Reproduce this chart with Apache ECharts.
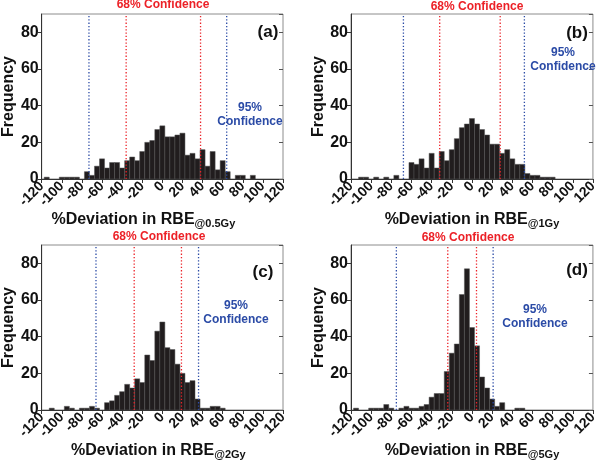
<!DOCTYPE html>
<html>
<head>
<meta charset="utf-8">
<script src="https://cdn.jsdelivr.net/npm/echarts@6/dist/echarts.min.js"></script>
<style>
html, body { margin: 0; background: #fff; }
#chart { width: 600px; height: 463px; }
</style>
</head>
<body>
<div id="chart"></div>
<script>
// histogram bins (centre of each 5% bin) and counts, per panel
var centersA = [-115, -100, -95, -90, -85, -75, -70, -65, -60, -55, -50, -45, -40, -35, -30, -25, -20, -15, -10, -5, 0, 5, 10, 15, 20, 25, 30, 35, 40, 45, 50, 55, 60, 65, 75, 80, 90]
var countsA = [1, 1, 1, 1, 1, 4, 2, 7, 11, 6, 9, 9, 6, 10, 12, 10, 15, 20, 21, 27, 29, 23, 23, 24, 25, 13, 14, 11, 16, 7, 15, 5, 10, 4, 2, 2, 2]

var centersB = [-110, -105, -95, -85, -75, -60, -55, -50, -45, -40, -35, -30, -25, -20, -15, -10, -5, 0, 5, 10, 15, 20, 25, 30, 35, 40, 45, 50, 55, 60, 65, 70, 75, 80]
var countsB = [1, 1, 1, 1, 2, 9, 8, 11, 6, 14, 6, 15, 10, 16, 22, 28, 30, 33, 30, 27, 24, 19, 19, 14, 16, 11, 8, 8, 3, 2, 2, 1, 1, 1]

var centersC = [-110, -95, -90, -80, -75, -70, -65, -55, -50, -45, -40, -35, -30, -25, -20, -15, -10, -5, 0, 5, 10, 15, 20, 25, 30, 35, 40, 45, 50, 55, 60]
var countsC = [1, 2, 1, 1, 1, 2, 1, 4, 5, 8, 10, 14, 12, 17, 15, 30, 27, 43, 48, 34, 33, 25, 20, 15, 16, 6, 1, 1, 2, 2, 1]

var centersD = [-115, -100, -95, -90, -85, -80, -70, -65, -60, -55, -50, -45, -40, -35, -30, -25, -20, -15, -10, -5, 0, 5, 10, 15, 20, 25, 30, 45, 50]
var countsD = [1, 1, 1, 1, 3, 1, 1, 2, 1, 1, 2, 3, 7, 9, 9, 21, 31, 36, 63, 77, 45, 35, 18, 12, 6, 2, 4, 1, 1]

// confidence limits (x positions of the dotted lines)
var conf68 = [[-36, 38], [-32, 28], [-28, 19], [-24, 4.5]]
var conf95 = [[-73, 64], [-68, 52], [-66, 36], [-75, 21]]

var subscripts = ['@0.5Gy', '@1Gy', '@2Gy', '@5Gy']
var panelTags = ['(a)', '(b)', '(c)', '(d)']
var xTicks = { min: -120, max: 120, interval: 20 }
var yTicks = { min: 0, max: 90, interval: 20 }

var binWidth = 5
var font = 'Liberation Sans, Arial, sans-serif'
var red = '#ec2127'
var blue = '#2b4ba6'

var chart = echarts.init(document.getElementById('chart'))

var grids = [
    { left: 36, top: 14, width: 247, height: 165 },
    { left: 351, top: 14, width: 245, height: 165 },
    { left: 36, top: 245, width: 247, height: 165 },
    { left: 351, top: 245, width: 245, height: 165 }
]
var namePad = [[0, 38, 0, 0], [0, 0, 0, 0], [0, 8, 0, 0], [0, 0, 0, 0]]
var panels = [[centersA, countsA], [centersB, countsB], [centersC, countsC], [centersD, countsD]]

var xAxes = []
var yAxes = []
var series = []

grids.forEach(function (g, i) {
    g.show = true
    g.borderColor = '#8c8c8c'
    g.borderWidth = 1
    xAxes.push({
        gridIndex: i,
        type: 'value',
        min: xTicks.min,
        max: xTicks.max,
        interval: xTicks.interval,
        splitLine: { show: false },
        axisLine: { onZero: false, lineStyle: { color: '#333', width: 1 } },
        axisTick: { inside: false, length: 4, lineStyle: { color: '#333' } },
        axisLabel: {
            rotate: 45,
            margin: 5,
            fontFamily: font,
            fontWeight: 'bold',
            fontSize: 14,
            color: '#111'
        },
        name: '{m|%Deviation in RBE}{s|' + subscripts[i] + '}',
        nameLocation: 'middle',
        nameGap: 28,
        nameTextStyle: {
            padding: namePad[i],
            rich: {
                m: { fontFamily: font, fontWeight: 'bold', fontSize: 16, color: '#111', lineHeight: 20, verticalAlign: 'middle' },
                s: { fontFamily: font, fontWeight: 'bold', fontSize: 11, color: '#111', lineHeight: 20, verticalAlign: 'bottom' }
            }
        }
    })
    yAxes.push({
        gridIndex: i,
        type: 'value',
        min: yTicks.min,
        max: yTicks.max,
        interval: yTicks.interval,
        splitLine: { show: false },
        axisLine: { show: true, onZero: false, lineStyle: { color: '#333', width: 1 } },
        axisTick: { show: true, inside: false, length: 4, lineStyle: { color: '#333' } },
        axisLabel: {
            showMaxLabel: false,
            margin: 3,
            fontFamily: font,
            fontWeight: 'bold',
            fontSize: 16,
            color: '#111'
        },
        name: 'Frequency',
        nameLocation: 'middle',
        nameGap: 21,
        nameTextStyle: { fontFamily: font, fontWeight: 'bold', fontSize: 16, color: '#111' }
    })
    yAxes.push({
        gridIndex: i,
        type: 'value',
        position: 'right',
        min: yTicks.min,
        max: yTicks.max,
        interval: yTicks.interval,
        splitLine: { show: false },
        axisLine: { show: false, onZero: false },
        axisTick: { show: true, inside: true, length: 4, lineStyle: { color: '#555' } },
        axisLabel: { show: false }
    })

    var data = panels[i][0].map(function (c, k) { return [c, panels[i][1][k]] })
    series.push({
        type: 'custom',
        xAxisIndex: i,
        yAxisIndex: 2 * i,
        silent: true,
        clip: true,
        z: 2,
        encode: { x: 0, y: 1 },
        data: data,
        renderItem: function (params, api) {
            var x = api.value(0)
            var y = api.value(1)
            var p0 = api.coord([x - binWidth / 2, y])
            var p1 = api.coord([x + binWidth / 2, 0])
            return {
                type: 'rect',
                shape: { x: p0[0], y: p0[1], width: p1[0] - p0[0], height: p1[1] - p0[1] },
                style: { fill: '#211d1e', stroke: '#555', lineWidth: 0.5 }
            }
        }
    })
    // dotted confidence lines
    ;[[conf68[i], red], [conf95[i], blue]].forEach(function (pair) {
        var col = pair[1]
        series.push({
            type: 'custom',
            xAxisIndex: i,
            yAxisIndex: 2 * i,
            silent: true,
            z: 3,
            encode: { x: 0 },
            data: pair[0].map(function (v) { return [v] }),
            renderItem: function (params, api) {
                var x = api.value(0)
                var a = api.coord([x, yTicks.min])
                var b = api.coord([x, yTicks.max])
                return {
                    type: 'line',
                    shape: { x1: a[0], y1: a[1], x2: b[0], y2: b[1] },
                    style: { stroke: col, lineWidth: 1.3, lineDash: [1.3, 2] }
                }
            }
        })
    })
})

// text annotations
var labelPos68 = [[163, 5], [477, 7], [159, 237], [468, 238]]
var labelPos95 = [[250, 115], [563, 60], [236, 313], [535, 317]]
var tagPos = [[268, 32], [577, 33], [263, 272], [577, 270]]
var graphics = []
for (var i = 0; i < 4; i++) {
    graphics.push({
        type: 'text', x: labelPos68[i][0], y: labelPos68[i][1], z: 10,
        style: { text: '68% Confidence', fill: red, font: 'bold 12px ' + font, align: 'center', verticalAlign: 'middle' }
    })
    graphics.push({
        type: 'text', x: labelPos95[i][0], y: labelPos95[i][1], z: 10,
        style: { text: '95%\nConfidence', fill: blue, font: 'bold 12px ' + font, align: 'center', verticalAlign: 'middle', lineHeight: 14 }
    })
    graphics.push({
        type: 'text', x: tagPos[i][0], y: tagPos[i][1], z: 10,
        style: { text: panelTags[i], fill: '#111', font: 'bold 17px ' + font, align: 'center', verticalAlign: 'middle' }
    })
}

chart.setOption({
    backgroundColor: '#fff',
    animation: false,
    grid: grids,
    xAxis: xAxes,
    yAxis: yAxes,
    series: series,
    graphic: graphics
})
</script>
</body>
</html>
